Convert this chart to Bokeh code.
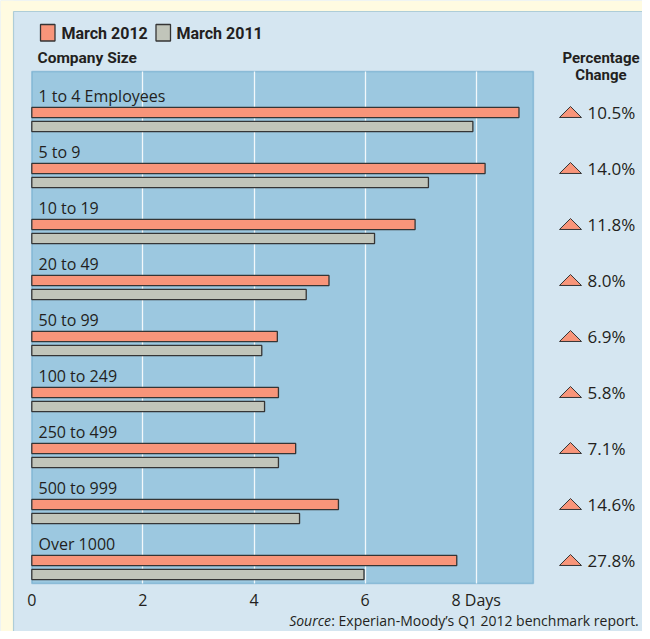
from bokeh.plotting import figure
from bokeh.models import (Range1d, FixedTicker, ColumnDataSource, LinearAxis, Grid,
                          BoxAnnotation)
from bokeh.core.properties import value
from bokeh.embed import file_html
from bokeh.resources import INLINE

categories = ["1 to 4 Employees", "5 to 9", "10 to 19", "20 to 49", "50 to 99",
              "100 to 249", "250 to 499", "500 to 999", "Over 1000"]
days_2012 = [8.77, 8.16, 6.90, 5.35, 4.42, 4.44, 4.75, 5.52, 7.65]
days_2011 = [7.94, 7.14, 6.17, 4.94, 4.14, 4.19, 4.44, 4.82, 5.98]
pct_change = [10.5, 14.0, 11.8, 8.0, 6.9, 5.8, 7.1, 14.6, 27.8]
x_ticks = [0, 2, 4, 6, 8]
x_tick_labels = ["0", "2", "4", "6", "8 Days"]
series_names = ["March 2012", "March 2011"]

ORANGE = "#F8957A"
GRAY = "#C1C5BA"
EDGE = "#353535"
TXT = "#231F20"
PANEL = "#D5E6F1"
PLOTBG = "#9CC8E0"
CREAM = "#FFFBE1"
BLUE = "#2379AE"
FONT = "Open Sans"
BOLD = "Roboto"

# layout constants (pixel geometry of the chart)
X0_PX, PX_PER_DAY = 31.3, 55.55      # canvas x of 0 days, pixels per day
Y0_PX, PX_PER_ROW = 71.0, 56.0       # canvas y of plot top, pixels per row
W, H = 642, 631
X_MAX = 9.03                          # right edge of plot area (days)
ROWS_BOTTOM = 512 / PX_PER_ROW        # bottom edge of plot area (rows)


def px_x(px):
    return (px - X0_PX) / PX_PER_DAY


def px_y(px):
    return (px - Y0_PX) / PX_PER_ROW


n = len(categories)
idx = list(range(n))
label_y = [i + 0.44 for i in idx]
y12 = [i + 0.732 for i in idx]
y11 = [i + 0.982 for i in idx]

p = figure(width=W, height=H,
           x_range=Range1d(px_x(0), px_x(W)),
           y_range=Range1d(px_y(H), px_y(0)),
           output_backend="svg", toolbar_location=None,
           x_axis_location=None, y_axis_location=None,
           min_border=0)
# drop the default grids tied to the hidden axes
p.center = [r for r in p.center if not isinstance(r, Grid)]
p.border_fill_color = PANEL
p.background_fill_color = PANEL
p.outline_line_color = None

# cream page and panel edge
p.add_layout(BoxAnnotation(left=px_x(0), right=px_x(13), top=px_y(0), bottom=px_y(H),
                           fill_color=CREAM, fill_alpha=1, line_color=None, level="image"))
p.add_layout(BoxAnnotation(left=px_x(0), right=px_x(W), top=px_y(0), bottom=px_y(11),
                           fill_color=CREAM, fill_alpha=1, line_color=None, level="image"))
p.add_layout(BoxAnnotation(left=px_x(13), right=px_x(W + 2), top=px_y(11), bottom=px_y(H + 2),
                           fill_alpha=0, line_color=BLUE, line_width=1.2, level="image"))
# plot area
p.add_layout(BoxAnnotation(left=0, right=X_MAX, top=0, bottom=ROWS_BOTTOM,
                           fill_color=PLOTBG, fill_alpha=1, line_color=BLUE,
                           line_width=1.5, level="image"))

xaxis = LinearAxis(fixed_location=ROWS_BOTTOM, ticker=FixedTicker(ticks=x_ticks))
xaxis.major_label_overrides = {t: l for t, l in zip(x_ticks, x_tick_labels)}
xaxis.axis_line_color = None
xaxis.major_tick_line_color = None
xaxis.minor_tick_line_color = None
xaxis.major_tick_in = 0
xaxis.major_tick_out = 0
xaxis.major_label_standoff = 5
xaxis.major_label_text_font = FONT
xaxis.major_label_text_font_size = "16px"
xaxis.major_label_text_color = TXT
p.add_layout(xaxis, "below")

grid = Grid(dimension=0, ticker=FixedTicker(ticks=x_ticks[1:]),
            cross_bounds=(0, ROWS_BOTTOM),
            grid_line_color="#F2F8FB", grid_line_width=1.3)
p.add_layout(grid)

src = ColumnDataSource(dict(cat=categories, d12=days_2012, d11=days_2011,
                            ly=label_y, y12=y12, y11=y11,
                            pct=["%.1f%%" % v for v in pct_change],
                            lx=[px_x(38)] * n, px=[px_x(587)] * n))

p.hbar(y="y12", right="d12", left=0, height=0.18, source=src,
       fill_color=ORANGE, line_color=EDGE, line_width=1.3)
p.hbar(y="y11", right="d11", left=0, height=0.18, source=src,
       fill_color=GRAY, line_color=EDGE, line_width=1.3)

p.text(x="lx", y="ly", text="cat", source=src, text_font=value(FONT),
       text_font_size="16px", text_color=TXT, text_baseline="middle", text_align="left")
p.text(x="px", y="y12", text="pct", source=src, text_font=value(FONT),
       text_font_size="17px", text_color=TXT, text_baseline="middle", text_align="left")

# up-triangles marking the change
tri_xs = [[px_x(559), px_x(570), px_x(581)] for _ in idx]
tri_ys = [[y - 0.009 + 0.098, y - 0.009 - 0.098, y - 0.009 + 0.098] for y in y12]
p.patches(tri_xs, tri_ys, fill_color=ORANGE, line_color=EDGE, line_width=1)

# legend
p.quad(left=[px_x(40), px_x(155.5)], right=[px_x(54.5), px_x(170)],
       top=[px_y(24), px_y(24)], bottom=[px_y(40.5), px_y(40.5)],
       fill_color=[ORANGE, GRAY], line_color=EDGE, line_width=1.3)
p.text(x=[px_x(61), px_x(176)], y=[px_y(32.5), px_y(32.5)], text=series_names,
       text_font=value(BOLD), text_font_style="bold", text_font_size="16px",
       text_color=TXT, text_baseline="middle")
p.text(x=[px_x(37)], y=[px_y(57.7)], text=["Company Size"], text_font=value(BOLD),
       text_font_style="bold", text_font_size="15.5px", text_color=TXT, text_baseline="middle")
p.text(x=[px_x(600.5), px_x(600.5)], y=[px_y(57), px_y(74)], text=["Percentage", "Change"],
       text_font=value(BOLD), text_font_style="bold", text_font_size="15px",
       text_color=TXT, text_baseline="middle", text_align="center")

# source
p.text(x=[px_x(638.3)], y=[px_y(619.5)], text=[": Experian-Moody\u2019s Q1 2012 benchmark report."],
       text_font=value(FONT), text_font_size="14px", text_color=TXT,
       text_baseline="middle", text_align="right")
p.text(x=[px_x(330.5)], y=[px_y(619.5)], text=["Source"], text_font=value(FONT),
       text_font_style="italic", text_font_size="14px", text_color=TXT,
       text_baseline="middle", text_align="right")

open("out.html", "w").write(file_html(p, INLINE))
